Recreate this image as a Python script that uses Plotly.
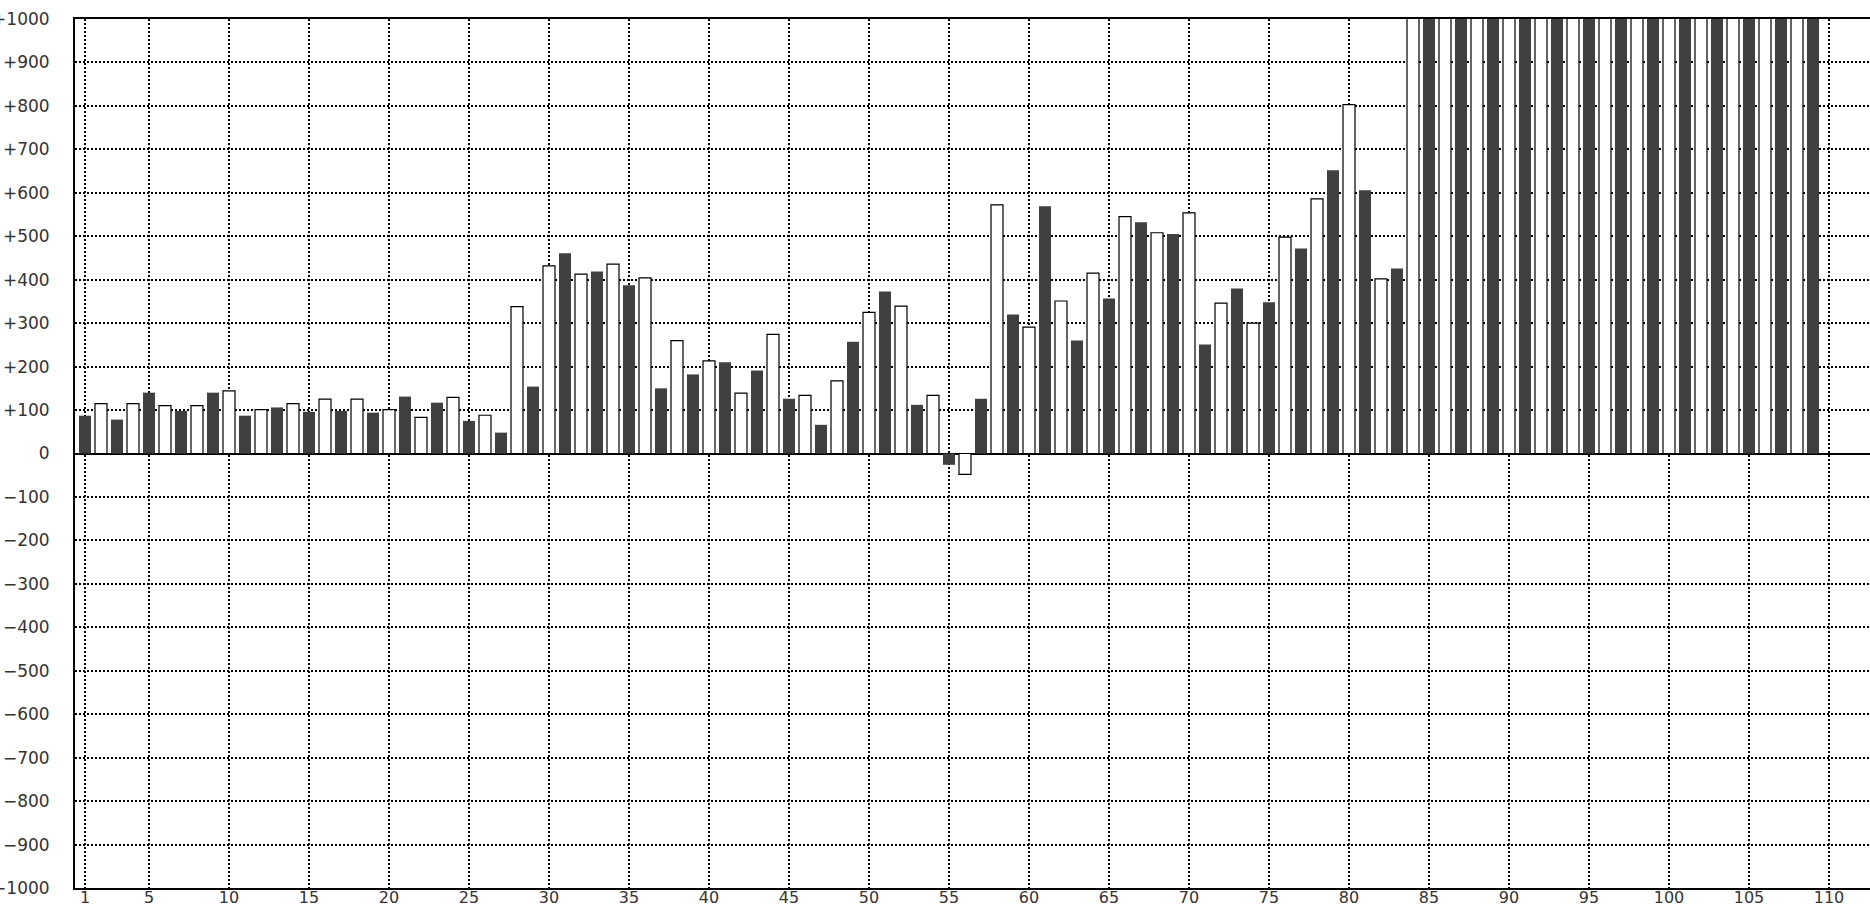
import plotly.graph_objects as go

# Dark bars sit at odd positions, white bars at even positions
x_dark = list(range(1, 110, 2))
dark_values = [87, 78, 140, 98, 140, 87, 106, 96, 98, 94, 131, 117, 75, 48,
               154, 461, 419, 387, 150, 182, 210, 191, 126, 66, 257, 373, 112,
               -26, 126, 320, 569, 260, 357, 532, 505, 251, 380, 348, 472, 652,
               606, 426,
               1200, 1200, 1200, 1200, 1200, 1200, 1200, 1200, 1200, 1200, 1200,
               1200, 1200]

x_light = list(range(2, 109, 2))
light_values = [115, 115, 110, 110, 144, 101, 115, 125, 125, 101, 83, 129, 88,
                338, 432, 413, 436, 404, 260, 213, 139, 274, 134, 167, 325, 339,
                134, -48, 572, 291, 351, 415, 545, 508, 554, 346, 300, 498, 586,
                803, 402,
                1200, 1200, 1200, 1200, 1200, 1200, 1200, 1200, 1200, 1200, 1200,
                1200, 1200]

x_tickvals = [1, 5, 10, 15, 20, 25, 30, 35, 40, 45, 50, 55, 60, 65, 70, 75, 80,
              85, 90, 95, 100, 105, 110]
y_tickvals = list(range(-1000, 1001, 100))
y_ticktext = [("+%d" % v) if v > 0 else ("\u2212%d" % -v if v < 0 else "0")
              for v in y_tickvals]

fig = go.Figure()
fig.add_trace(go.Bar(x=x_dark, y=dark_values, width=0.75,
                     marker=dict(color="#404040", line=dict(width=0)),
                     hoverinfo="x+y"))
fig.add_trace(go.Bar(x=x_light, y=light_values, width=0.75,
                     marker=dict(color="#ffffff",
                                 line=dict(color="#000000", width=1.2)),
                     hoverinfo="x+y"))

grid = dict(showgrid=True, gridcolor="#000000", gridwidth=2, griddash="2px,2px")

fig.update_layout(
    width=1870,
    height=910,
    autosize=False,
    barmode="overlay",
    showlegend=False,
    paper_bgcolor="#ffffff",
    plot_bgcolor="#ffffff",
    margin=dict(l=75, r=0, t=19, b=22),
    font=dict(family="DejaVu Sans", size=17, color="#333333"),
    xaxis=dict(range=[0.375, 112.5625], tickvals=x_tickvals, automargin=False,
               ticks="", showline=True, linecolor="#000000", linewidth=2,
               mirror=True, zeroline=False, ticklabelstandoff=-6,
               tickfont=dict(size=16), **grid),
    yaxis=dict(range=[-1000, 1000], tickvals=y_tickvals, ticktext=y_ticktext,
               automargin=False,
               ticks="", showline=True, linecolor="#000000", linewidth=2,
               zeroline=True, zerolinecolor="#000000", zerolinewidth=2,
               ticklabelstandoff=20, **grid),
)

fig.write_html(
    "out.html",
    config={"displayModeBar": False},
    post_script="document.body.style.margin='0';document.body.style.overflow='hidden';",
)
